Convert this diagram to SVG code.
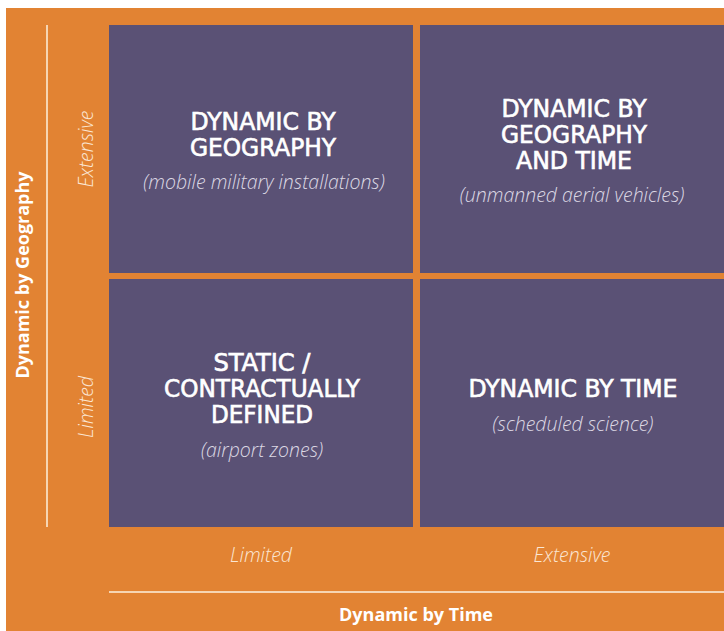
<svg xmlns="http://www.w3.org/2000/svg" width="724" height="631" viewBox="0 0 724 631">
<style>
.bg{fill:#E28333}
.cell{fill:#5A5175}
.rule{stroke:#F6D5B3;stroke-width:2;fill:none}
.title{font-family:"DejaVu Sans Condensed","DejaVu Sans",sans-serif;font-stretch:condensed;font-size:24px;fill:#FFFFFF;stroke:#FFFFFF;stroke-width:0.6;text-anchor:middle}
.sub{font-family:"Open Sans","Liberation Sans",sans-serif;font-style:italic;font-weight:300;font-size:19.5px;fill:#DCD8E4;text-anchor:middle}
.lab{font-family:"Open Sans","Liberation Sans",sans-serif;font-style:italic;font-weight:300;font-size:19.5px;fill:#FBE6D3;text-anchor:middle}
.axis{font-family:"Open Sans","Liberation Sans",sans-serif;font-weight:bold;font-size:18px;fill:#FFFFFF;text-anchor:middle}
</style>
<rect x="0" y="0" width="724" height="631" fill="#FFFFFF"/>
<rect class="bg" x="6" y="8" width="718" height="623"/>
<g id="connectors">
<line class="rule" x1="47" y1="25" x2="47" y2="527"/>
<line class="rule" x1="109" y1="592" x2="724" y2="592"/>
</g>
<g id="cell-geography">
<rect class="cell" x="109" y="25" width="304" height="248"/>
<text class="title" x="263" y="130" textLength="145" lengthAdjust="spacingAndGlyphs">DYNAMIC BY</text>
<text class="title" x="263" y="156" textLength="146" lengthAdjust="spacingAndGlyphs">GEOGRAPHY</text>
<text class="sub" x="264" y="189">(mobile military installations)</text>
</g>
<g id="cell-geography-time">
<rect class="cell" x="420" y="25" width="304" height="248"/>
<text class="title" x="574" y="117" textLength="145" lengthAdjust="spacingAndGlyphs">DYNAMIC BY</text>
<text class="title" x="574" y="143" textLength="146" lengthAdjust="spacingAndGlyphs">GEOGRAPHY</text>
<text class="title" x="574" y="169" textLength="116" lengthAdjust="spacingAndGlyphs">AND TIME</text>
<text class="sub" x="572" y="202">(unmanned aerial vehicles)</text>
</g>
<g id="cell-static">
<rect class="cell" x="109" y="279" width="304" height="248"/>
<text class="title" x="262" y="371" textLength="97" lengthAdjust="spacingAndGlyphs">STATIC /</text>
<text class="title" x="262" y="397" textLength="196" lengthAdjust="spacingAndGlyphs">CONTRACTUALLY</text>
<text class="title" x="262" y="423" textLength="102" lengthAdjust="spacingAndGlyphs">DEFINED</text>
<text class="sub" x="262" y="457">(airport zones)</text>
</g>
<g id="cell-time">
<rect class="cell" x="420" y="279" width="304" height="248"/>
<text class="title" x="573" y="397" textLength="209" lengthAdjust="spacingAndGlyphs">DYNAMIC BY TIME</text>
<text class="sub" x="573" y="431">(scheduled science)</text>
</g>
<g id="axis-labels">
<text class="axis" transform="translate(29,275) rotate(-90)">Dynamic by Geography</text>
<text class="lab" transform="translate(93,149) rotate(-90)">Extensive</text>
<text class="lab" transform="translate(93,407) rotate(-90)">Limited</text>
<text class="lab" x="261" y="562">Limited</text>
<text class="lab" x="572" y="562">Extensive</text>
<text class="axis" x="416" y="621">Dynamic by Time</text>
</g>
</svg>
